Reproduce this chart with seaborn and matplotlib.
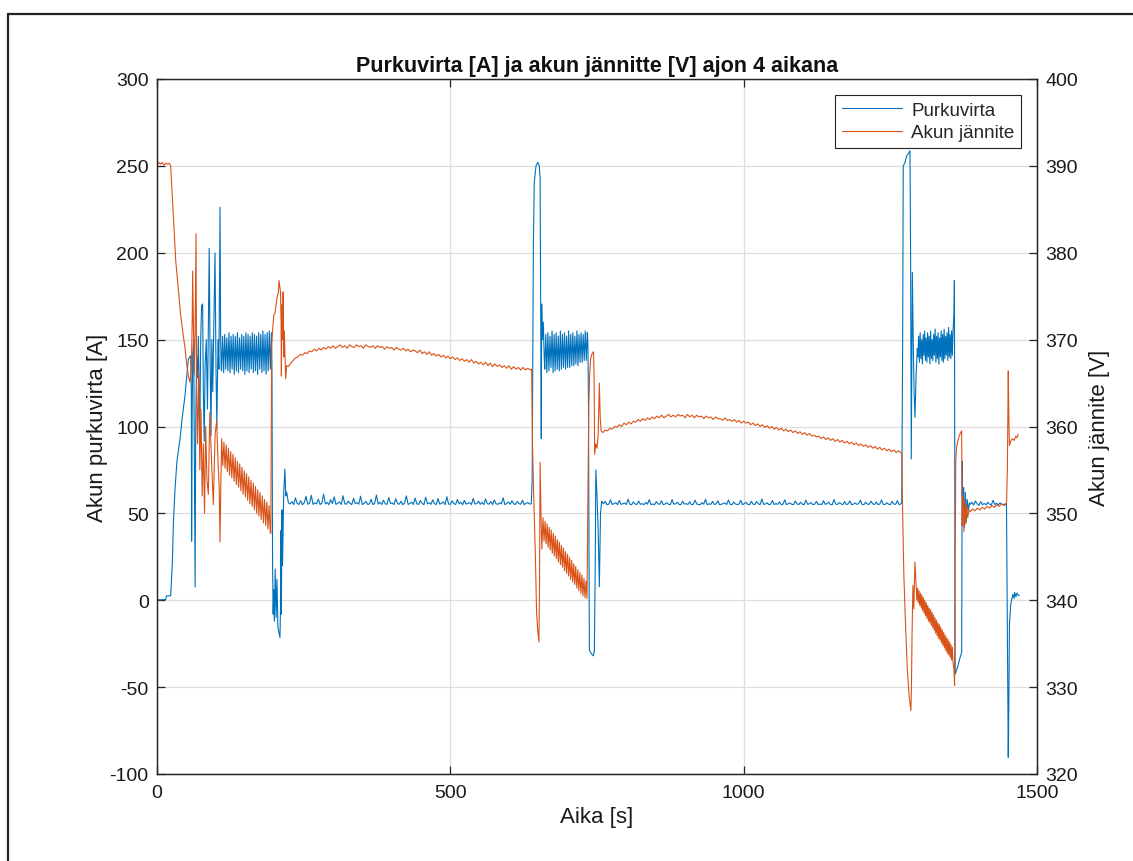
import numpy as np
import pandas as pd
import matplotlib
matplotlib.use("Agg")
import matplotlib.pyplot as plt
from matplotlib.lines import Line2D
import seaborn as sns

# ---------------- DATA ----------------
# Current (Purkuvirta) [A]
cur_start_t = [0, 8, 15, 16, 21, 23.3, 26, 28, 30.7, 34, 39.2, 43, 47.7, 51, 53.4, 57.4, 58.5]
cur_start_v = [0.3, 0.3, 0.4, 2.5, 2.6, 2.6, 20, 45, 64, 80, 92.8, 105, 117.7, 130, 138.8, 140.7, 120]

cur_chaos_t = [59, 60, 61, 62.5, 64, 65, 66, 67.5, 69, 70.5, 72, 73, 74.5, 76, 77.8, 79, 80.5, 82, 84, 86,
               89, 90.5, 92, 93.5, 95, 97, 98.9, 100.5, 102, 104, 105.5, 107.4, 108.5, 109.5]
cur_chaos_v = [34, 110, 142, 150, 60, 7.6, 100, 140, 128, 152, 120, 94.7, 150, 169.5, 170.5, 120, 91.5, 135, 150, 110,
               202.6, 140, 95, 150, 120, 160, 199.9, 135, 100, 150, 133, 226.2, 150, 133]

cur_osc1 = [132, 152, 131, 153, 133, 151, 132, 154, 131, 152, 133, 153, 130, 152, 132, 154, 131, 151, 133, 153,
            132, 152, 130, 154, 132, 153, 131, 152, 133, 154, 131, 153, 132, 152, 130, 154, 133, 153, 131, 155,
            132, 153, 130, 154, 132, 155, 133, 154]
cur_osc1_span = (110, 195)

cur_drop1_t = [196, 197, 198, 199, 200, 201.5, 203, 204.5, 206, 207.5, 209.6, 210.5, 211, 212, 213, 214, 216, 218, 219.5, 221, 224]
cur_drop1_v = [128, 20, -8, 6, -12, 18, -10, 12, -15, -18, -21.5, -5, 40, -8, 52, 20, 62, 75.5, 60, 62.3, 56]

cur_steady1 = [55.4, 56.8, 55.1, 58.9, 55.6, 55.2, 57.3, 55.0, 56.1, 59.8,
               55.3, 55.7, 60.4, 55.2, 56.0, 55.5, 58.2, 55.1, 55.9, 61.0,
               55.4, 56.3, 55.0, 57.9, 55.6, 59.5, 55.2, 55.8, 56.6, 55.1,
               60.2, 55.5, 55.3, 57.1, 55.8, 55.0, 58.7, 55.6, 56.2, 55.3,
               59.9, 55.1, 55.7, 56.9, 55.2, 55.4, 58.1, 55.0, 55.8, 60.6,
               55.3, 56.4, 55.1, 57.6, 55.5, 55.2, 59.1, 55.7, 56.0, 55.1,
               58.4, 55.6, 55.3, 57.0, 55.0, 55.9, 60.1, 55.2, 55.6, 56.5,
               55.1, 58.8, 55.4, 55.2, 57.4, 55.7, 55.0, 59.3, 55.5, 56.1,
               55.2, 57.8, 55.6, 55.1, 58.5, 55.3, 55.8, 56.7, 55.0, 59.6,
               55.4, 55.2, 57.2, 55.7, 55.1, 58.0, 55.5, 56.3, 55.0, 57.5,
               55.3, 55.8, 56.2, 55.1, 58.6, 55.4, 55.6, 57.0, 55.2, 56.4,
               55.0, 58.3, 55.6, 55.3, 56.8, 55.1, 57.7, 55.5, 55.2, 56.1,
               55.4, 58.9, 55.0, 55.7, 56.6, 55.2, 57.3, 55.5, 55.1, 56.9,
               55.6, 55.3, 57.6, 55.0, 55.8, 56.2, 55.4, 55.5]
cur_steady1_span = (227, 638)

cur_spike1_t = [639.5, 641.5, 643, 646, 649, 651.7, 653, 654, 655, 655.7, 657, 658.5, 660]
cur_spike1_v = [70, 202, 240, 250, 252, 250, 243, 170, 93, 170.5, 150, 160, 140]

cur_osc2 = [133, 153, 131, 154, 132, 152, 134, 155, 131, 153, 132, 154, 133, 152, 132, 155, 133, 153, 134, 154,
            133, 152, 134, 155, 134, 153, 135, 154, 135, 152, 136, 155, 135, 153, 137, 154, 137, 153, 138, 155,
            138, 154]
cur_osc2_span = (661, 733.5)

cur_drop2_t = [734.5, 735.5, 736.5, 737, 739, 741, 743.8, 745.5, 747, 748, 750, 752, 754, 756, 758]
cur_drop2_v = [148, 111, 20, -28.6, -30, -31, -32, -29, 20, 75, 60, 40, 7.8, 50, 57]

cur_steady2 = [55.5, 56.9, 55.0, 55.3, 57.8, 55.1, 55.6, 56.2, 55.0, 57.4,
               55.2, 55.5, 56.0, 55.1, 58.2, 55.3, 55.0, 56.6, 55.4, 55.1,
               57.1, 55.2, 55.6, 55.0, 56.3, 55.3, 57.9, 55.1, 55.4, 55.0,
               56.8, 55.5, 55.2, 57.3, 55.0, 55.4, 56.1, 55.2, 55.0, 58.0,
               55.3, 55.5, 56.4, 55.1, 55.0, 57.0, 55.3, 55.6, 55.1, 56.7,
               55.0, 55.2, 57.6, 55.4, 55.1, 55.0, 56.2, 55.3, 58.1, 55.0,
               55.5, 55.2, 56.9, 55.1, 55.4, 57.2, 55.0, 55.3, 55.6, 56.0,
               55.1, 57.7, 55.2, 55.0, 56.5, 55.4, 55.1, 55.3, 57.5, 55.0,
               55.6, 56.3, 55.2, 55.0, 57.0, 55.3, 55.1, 56.8, 55.5, 55.0,
               58.3, 55.2, 55.4, 56.1, 55.0, 55.3, 57.4, 55.1, 55.6, 55.2,
               56.6, 55.0, 55.3, 57.8, 55.1, 55.5, 56.0, 55.2, 55.0, 57.1,
               55.4, 55.1, 56.4, 55.3, 55.0, 57.6, 55.2, 55.5, 56.2, 55.0,
               55.3, 56.9, 55.1, 55.4, 55.0, 57.3, 55.2, 55.6, 56.5, 55.1,
               55.0, 57.9, 55.3, 55.2, 56.2, 55.5, 55.0, 56.8, 55.1, 55.4,
               57.2, 55.0, 55.3, 56.0, 55.2, 55.6, 57.5, 55.1, 55.0, 56.4,
               55.3, 55.2, 57.0, 55.5, 55.1, 56.6, 55.0, 55.4, 57.7, 55.2,
               55.1, 56.1, 55.3, 55.0, 56.9, 55.4, 55.2, 57.3, 55.0, 55.5]
cur_steady2_span = (761, 1268)

cur_spike2_t = [1269.5, 1271, 1272, 1275, 1278, 1281, 1283.5, 1284.5, 1285.7, 1287.5, 1289, 1290.5, 1292, 1294, 1296]
cur_spike2_v = [56, 150, 250, 252, 255.9, 257, 258.7, 200, 81.3, 188.7, 150, 120, 105.3, 130, 145]

cur_osc3 = [140, 152, 137, 154, 139, 150, 136, 153, 141, 155, 138, 151, 137, 154, 140, 152, 136, 155, 139, 150,
            138, 153, 141, 156, 137, 152, 139, 154, 136, 151, 140, 155, 138, 153, 137, 156, 139, 152, 141, 154,
            138, 157, 140, 153, 139, 155, 141, 156]
cur_osc3_span = (1297, 1357)

cur_drop3_t = [1358.5, 1359.2, 1360, 1360.5, 1362, 1365, 1368, 1371.6, 1372.5, 1373.5, 1375, 1376.5, 1378, 1379.5, 1381, 1383, 1385]
cur_drop3_v = [165, 184, 60, -42.4, -41, -38, -34, -30, 80, 43, 65, 42, 62, 45, 58, 52, 56]

cur_steady3 = [55.2, 56.4, 54.8, 57.1, 55.5, 54.6, 56.8, 55.0, 55.7, 54.9, 56.3, 55.4, 54.7, 57.5, 55.1,
               55.8, 54.9, 56.0, 55.3, 54.8, 55.6]
cur_steady3_span = (1386, 1446)

cur_end_t = [1448, 1449.5, 1451, 1452, 1453, 1455, 1457, 1459, 1461, 1462, 1464, 1466, 1468, 1470]
cur_end_v = [55, -20, -90.4, -60, -14.6, -3, 0.7, 3.5, 1, 4.5, 2, 4.2, 2.8, 2.6]

# Voltage (Akun jännite) [V]
volt_start_t = [0, 3, 6, 9, 12, 15, 18, 21, 23.3, 27.8, 32, 36.4, 40, 44.9, 47.7, 50, 53.4, 56.2, 58.5]
volt_start_v = [390.1, 390.4, 390.2, 390.4, 390.1, 390.3, 390.2, 390.3, 390.0, 384.3, 379.0, 375.8, 373.0, 370.4,
                369.1, 367.5, 365.8, 365.1, 366.5]

volt_chaos_t = [60, 60.8, 62, 63.5, 65, 66.5, 67.5, 69, 71, 73, 75, 77, 79, 81, 83, 85, 87.5, 90, 93, 96, 99,
                101.7, 104, 106, 107.4, 108.5]
volt_chaos_v = [372, 377.9, 372, 366, 371, 382.2, 364.3, 358, 366, 355, 362, 352, 358, 350, 360, 354, 352.2, 361.6,
                356, 351, 359, 360.7, 356, 353, 346.7, 352]

volt_saw1 = [358.6, 355.5, 358.2, 355.2, 357.9, 354.8, 357.5, 354.4, 357.1, 354.1, 356.8, 353.7, 356.4, 353.3,
             356.0, 353.0, 355.7, 352.6, 355.3, 352.2, 354.9, 351.9, 354.6, 351.5, 354.2, 351.1, 353.8, 350.8,
             353.5, 350.4, 353.1, 350.0, 352.7, 349.7, 352.4, 349.3, 352.0, 348.9, 351.6, 348.6, 351.3, 348.2,
             350.9, 347.8]
volt_saw1_span = (110.2, 193)

volt_rise1_t = [194, 195.5, 197, 199, 201, 203, 205, 206.8, 208, 209.6, 210.5, 211.5, 212, 213, 214, 215, 216, 217,
                219.3, 221]
volt_rise1_v = [347.7, 369.3, 371, 372.8, 373, 374, 375, 375.4, 376.8, 376, 375.5, 372, 365.8, 374, 370, 375.5, 368,
                371, 365.5, 367]

volt_steady1 = [366.9, 367.3, 367.6, 367.9, 368.0, 368.3, 368.2, 368.5, 368.4, 368.7,
                368.6, 368.9, 368.7, 369.0, 368.8, 369.1, 368.9, 369.2, 369.0, 369.3,
                369.0, 369.2, 369.4, 369.1, 369.3, 369.0, 369.4, 369.2, 369.1, 369.4,
                369.2, 369.3, 369.0, 369.4, 369.2, 369.1, 369.3, 369.0, 369.3, 369.1,
                369.2, 368.9, 369.2, 369.0, 369.1, 368.8, 369.1, 368.9, 368.8, 369.0,
                368.7, 368.9, 368.6, 368.8, 368.7, 368.5, 368.8, 368.4, 368.6, 368.3,
                368.6, 368.2, 368.4, 368.1, 368.3, 368.0, 368.2, 367.9, 368.1, 367.8,
                368.0, 367.7, 367.9, 367.6, 367.8, 367.5, 367.7, 367.4, 367.7, 367.3,
                367.5, 367.2, 367.4, 367.1, 367.4, 367.0, 367.3, 366.9, 367.2, 366.9,
                367.1, 366.8, 367.0, 366.7, 367.0, 366.6, 366.9, 366.6, 366.8, 366.5,
                366.8, 366.5, 366.7, 366.5]
volt_steady1_span = (224, 636)

volt_drop2_t = [638.6, 640, 642, 645, 647, 649, 651, 652, 653, 654.5, 656]
volt_drop2_v = [366.6, 358, 352.3, 345, 338.6, 336.5, 335.2, 342, 355.9, 350, 345.9]

volt_saw2 = [349.5, 346.8, 349.1, 346.5, 348.8, 346.1, 348.4, 345.8, 348.1, 345.4, 347.7, 345.1, 347.4, 344.8,
             347.0, 344.4, 346.7, 344.1, 346.3, 343.8, 346.0, 343.4, 345.6, 343.1, 345.3, 342.8, 344.9, 342.4,
             344.6, 342.1, 344.2, 341.8, 343.9, 341.4, 343.5, 341.1, 343.2, 340.8, 342.9, 340.5, 342.5, 340.3,
             342.2, 340.2]
volt_saw2_span = (658, 733)

volt_rise2_t = [734.5, 736, 737.5, 739, 741, 744, 745, 746, 748, 750, 752, 754, 755.5, 757]
volt_rise2_v = [352, 362.3, 366, 367.7, 368.3, 368.6, 366, 356.8, 358, 357.5, 359, 365, 361, 359.5]

volt_steady2 = [359.3, 359.6, 359.5, 359.8, 359.7, 360.0, 359.9, 360.2, 360.0, 360.4,
                360.2, 360.5, 360.3, 360.6, 360.5, 360.8, 360.6, 360.9, 360.7, 361.0,
                360.8, 361.1, 360.9, 361.2, 361.0, 361.3, 361.0, 361.2, 361.4, 361.1,
                361.3, 361.1, 361.4, 361.2, 361.3, 361.0, 361.4, 361.1, 361.3, 361.0,
                361.3, 361.1, 361.2, 360.9, 361.2, 361.0, 361.1, 360.8, 361.1, 360.9,
                360.9, 360.7, 361.0, 360.7, 360.8, 360.6, 360.8, 360.5, 360.7, 360.4,
                360.6, 360.4, 360.5, 360.2, 360.4, 360.1, 360.3, 360.0, 360.2, 359.9,
                360.1, 359.8, 360.0, 359.7, 359.9, 359.6, 359.8, 359.5, 359.7, 359.4,
                359.6, 359.3, 359.5, 359.2, 359.4, 359.1, 359.3, 359.0, 359.2, 358.9,
                359.0, 358.8, 358.9, 358.6, 358.8, 358.5, 358.7, 358.4, 358.6, 358.3,
                358.5, 358.2, 358.4, 358.1, 358.3, 358.0, 358.2, 357.9, 358.1, 357.8,
                358.0, 357.7, 357.9, 357.6, 357.8, 357.5, 357.7, 357.4, 357.6, 357.3,
                357.5, 357.2, 357.4, 357.1, 357.3, 357.0, 357.2, 357.0]
volt_steady2_span = (760, 1268)

volt_drop3_t = [1269.5, 1271, 1273, 1276, 1279, 1282, 1285, 1286, 1287, 1288.5, 1290, 1291, 1292]
volt_drop3_v = [356.9, 350, 343, 337, 332, 329, 327.3, 330, 336, 341.7, 339, 342, 344.4]

volt_saw3 = [341.7, 340.0, 341.4, 339.7, 341.1, 339.4, 340.8, 339.1, 340.6, 338.8, 340.3, 338.5, 340.0, 338.2,
             339.7, 337.9, 339.4, 337.6, 339.1, 337.4, 338.9, 337.1, 338.6, 336.8, 338.3, 336.5, 338.0, 336.2,
             337.7, 335.9, 337.4, 335.6, 337.2, 335.4, 336.9, 335.1, 336.6, 334.8, 336.3, 334.5, 336.0, 334.2,
             335.7, 333.9, 335.5, 333.7, 335.2, 333.4, 334.9, 333.1, 334.6, 332.8]
volt_saw3_span = (1294, 1357)

volt_rise3_t = [1358.5, 1359.5, 1360.5, 1361.5, 1363, 1366, 1369, 1371.6, 1372.5, 1374, 1375.5, 1377, 1378.5, 1380,
                1382, 1384]
volt_rise3_v = [332, 330.2, 345, 355.9, 357.7, 358.6, 359.2, 359.5, 348.6, 352, 347.9, 351.5, 348.8, 351, 349.5,
                350.4]

volt_steady3 = [350.2, 350.5, 350.3, 350.6, 350.4, 350.7, 350.5, 350.8, 350.6, 350.9, 350.7, 351.0, 350.8, 351.1,
                350.9, 351.1]
volt_steady3_span = (1386, 1448)

volt_end_t = [1449.5, 1450.5, 1451, 1452, 1453, 1455, 1458, 1461, 1464, 1466, 1468]
volt_end_v = [355, 362, 366.4, 361, 357.8, 358.3, 358.6, 358.4, 358.9, 358.7, 359.1]

title_text = "Purkuvirta [A] ja akun jännitte [V] ajon 4 aikana"
xlabel_text = "Aika [s]"
ylabel_left = "Akun purkuvirta [A]"
ylabel_right = "Akun jännite [V]"
legend_labels = ["Purkuvirta", "Akun jännite"]
x_ticks = [0, 500, 1000, 1500]
yl_ticks = [-100, -50, 0, 50, 100, 150, 200, 250, 300]
yr_ticks = [320, 330, 340, 350, 360, 370, 380, 390, 400]


def sampled(values, span):
    return np.linspace(span[0], span[1], len(values)), np.asarray(values, dtype=float)


def build(pieces):
    ts, vs = [], []
    for p in pieces:
        if len(p) == 2 and isinstance(p[1], tuple):
            t, v = sampled(p[0], p[1])
        else:
            t, v = np.asarray(p[0], float), np.asarray(p[1], float)
        ts.append(t)
        vs.append(v)
    return np.concatenate(ts), np.concatenate(vs)


t_cur, v_cur = build([
    (cur_start_t, cur_start_v), (cur_chaos_t, cur_chaos_v), (cur_osc1, cur_osc1_span),
    (cur_drop1_t, cur_drop1_v), (cur_steady1, cur_steady1_span), (cur_spike1_t, cur_spike1_v),
    (cur_osc2, cur_osc2_span), (cur_drop2_t, cur_drop2_v), (cur_steady2, cur_steady2_span),
    (cur_spike2_t, cur_spike2_v), (cur_osc3, cur_osc3_span), (cur_drop3_t, cur_drop3_v),
    (cur_steady3, cur_steady3_span), (cur_end_t, cur_end_v)])

t_volt, v_volt = build([
    (volt_start_t, volt_start_v), (volt_chaos_t, volt_chaos_v), (volt_saw1, volt_saw1_span),
    (volt_rise1_t, volt_rise1_v), (volt_steady1, volt_steady1_span), (volt_drop2_t, volt_drop2_v),
    (volt_saw2, volt_saw2_span), (volt_rise2_t, volt_rise2_v), (volt_steady2, volt_steady2_span),
    (volt_drop3_t, volt_drop3_v), (volt_saw3, volt_saw3_span), (volt_rise3_t, volt_rise3_v),
    (volt_steady3, volt_steady3_span), (volt_end_t, volt_end_v)])

df_cur = pd.DataFrame({"t": t_cur, "v": v_cur})
df_volt = pd.DataFrame({"t": t_volt, "v": v_volt})

# ---------------- STYLE ----------------
sns.set_style("white")
plt.rcParams["font.family"] = ["Liberation Sans", "DejaVu Sans"]
plt.rcParams["axes.unicode_minus"] = False

BLUE = "#0072BD"
ORANGE = "#D95319"
SPINE = "#262626"

W, H = 1133, 862
fig = plt.figure(figsize=(W / 100, H / 100), dpi=100)
L, R, T, B = 157, 1037, 80, 775
ax1 = fig.add_axes([L / W, 1 - B / H, (R - L) / W, (B - T) / H])
ax2 = ax1.twinx()

sns.lineplot(data=df_cur, x="t", y="v", ax=ax1, color=BLUE, linewidth=0.8,
             estimator=None, sort=False, legend=False)
sns.lineplot(data=df_volt, x="t", y="v", ax=ax2, color=ORANGE, linewidth=0.8,
             estimator=None, sort=False, legend=False)

ax1.set_xlim(0, 1500)
ax1.set_ylim(-100, 300)
ax2.set_ylim(320, 400)
ax1.set_xticks(x_ticks)
ax1.set_yticks(yl_ticks)
ax2.set_yticks(yr_ticks)

ax1.grid(True, color="#dedede", linewidth=0.9)
ax1.set_axisbelow(True)
ax2.grid(False)

for ax in (ax1, ax2):
    for s in ax.spines.values():
        s.set_color(SPINE)
        s.set_linewidth(0.9)
        s.set_visible(True)

ax1.tick_params(axis="both", direction="in", length=6, width=0.9, colors=SPINE,
                labelcolor="#1a1a1a", labelsize=14)
ax1.tick_params(axis="x", top=True, bottom=True, pad=7)
ax1.tick_params(axis="y", left=True, right=False, pad=6)
ax2.tick_params(axis="y", direction="in", length=6, width=0.9, colors=SPINE,
                labelcolor="#1a1a1a", labelsize=14, right=True, left=False, pad=6)

ax1.set_xlabel(xlabel_text, fontsize=16, color="#1a1a1a", labelpad=4)
ax1.set_ylabel(ylabel_left, fontsize=16, color="#1a1a1a", labelpad=1)
ax2.set_ylabel(ylabel_right, fontsize=16, color="#1a1a1a", labelpad=8)
ax1.set_title(title_text, fontsize=15.5, fontweight="bold", color="#111111", pad=6)

handles = [Line2D([], [], color=BLUE, lw=0.8), Line2D([], [], color=ORANGE, lw=0.8)]
leg = ax2.legend(handles, legend_labels, loc="upper right",
                 bbox_to_anchor=(1 - 16 / (R - L), 1 - 16 / (B - T)), borderaxespad=0,
                 fontsize=13.5, frameon=True, fancybox=False, shadow=False, framealpha=1,
                 edgecolor="#222222", handlelength=3.2, handletextpad=0.5,
                 borderpad=0.35, labelspacing=0.3)
leg.get_frame().set_linewidth(0.8)

# outer border of the figure (top and left edges visible)
fig.add_artist(Line2D([8 / W, 1.0], [1 - 15 / H, 1 - 15 / H], transform=fig.transFigure,
                      color="#222222", lw=1.6))
fig.add_artist(Line2D([8 / W, 8 / W], [0.0, 1 - 15 / H], transform=fig.transFigure,
                      color="#222222", lw=1.6))

fig.savefig("out.png", dpi=100)
